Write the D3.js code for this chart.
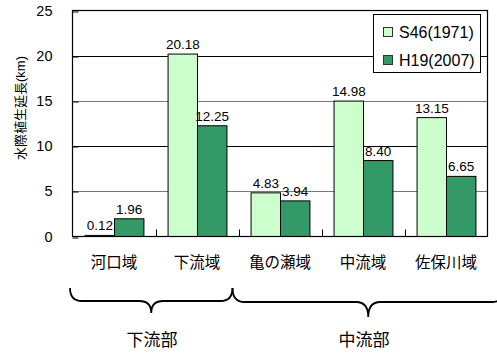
<!DOCTYPE html>
<html>
<head>
<meta charset="utf-8">
<script src="https://cdn.jsdelivr.net/npm/d3@7"></script>
<style>
  html, body { margin: 0; padding: 0; background: #fff; }
  svg { display: block; }
  text { font-family: "Liberation Sans", "Noto Sans CJK JP", sans-serif; fill: #000; }
</style>
</head>
<body>
<svg id="chart" width="497" height="354"></svg>
<script>
// 区間ごとの水際植生延長 (km)
const sections = ["河口域", "下流域", "亀の瀬域", "中流域", "佐保川域"];
const seriesNames = ["S46(1971)", "H19(2007)"];
const s46 = [0.12, 20.18, 4.83, 14.98, 13.15];
const h19 = [1.96, 12.25, 3.94, 8.40, 6.65];
const yTicks = [0, 5, 10, 15, 20, 25];
const reaches = [
  { name: "下流部", from: 0, to: 1 },
  { name: "中流部", from: 2, to: 4 }
];
const colors = ["#ccffcc", "#339966"];
const yTitle = "水際植生延長(km)";

const svg = d3.select("#chart");
const plotLeft = 72.5, plotRight = 487.5, plotTop = 10.5, plotBottom = 236.5;

const x0 = d3.scaleBand().domain(sections).range([plotLeft, plotRight]).padding(0);
const x1 = d3.scaleBand().domain(seriesNames).range([0, x0.bandwidth()])
  .paddingInner(0).paddingOuter(0.41);
const y = d3.scaleLinear().domain([0, 25]).range([plotBottom, plotTop]);

const rows = sections.map((s, i) => ({ section: s, values: [s46[i], h19[i]] }));

// grid lines
const g = svg.append("g");
g.selectAll("line.grid").data(yTicks.filter(t => t > 0 && t < 25)).join("line")
  .attr("class", "grid")
  .attr("x1", plotLeft).attr("x2", plotRight)
  .attr("y1", d => Math.round(y(d)) + 0.5).attr("y2", d => Math.round(y(d)) + 0.5)
  .attr("stroke", d => d % 10 === 0 ? "#000" : "#777")
  .attr("stroke-width", 1);

// y axis with inward ticks
const yAxis = d3.axisLeft(y).tickValues(yTicks).tickSize(-6).tickPadding(20)
  .tickFormat(d3.format("d"));
const ya = svg.append("g").attr("transform", `translate(${plotLeft},0)`).call(yAxis);
ya.select(".domain").remove();
ya.selectAll(".tick line").attr("stroke", "#000")
  .attr("transform", d => `translate(0,${Math.round(y(d)) + 0.5 - y(d)})`);
ya.selectAll(".tick text").attr("font-size", 14.5).attr("x", -20)
  .style("font-family", "'Liberation Sans', sans-serif");

// bars
const groups = svg.append("g").selectAll("g").data(rows).join("g")
  .attr("transform", d => `translate(${x0(d.section)},0)`);
groups.selectAll("rect").data(d => d.values.map((v, k) => ({ v, k }))).join("rect")
  .attr("x", d => x1(seriesNames[d.k]) + 0.5)
  .attr("width", x1.bandwidth())
  .attr("y", d => y(d.v))
  .attr("height", d => plotBottom - y(d.v))
  .attr("fill", d => colors[d.k])
  .attr("stroke", "#000")
  .attr("stroke-width", 1);

// value labels
groups.selectAll("text").data(d => d.values.map((v, k) => ({ v, k }))).join("text")
  .attr("x", d => x1(seriesNames[d.k]) + x1.bandwidth() / 2 + 0.5)
  .attr("y", d => y(d.v) - 5)
  .attr("text-anchor", "middle")
  .attr("font-size", 13.5)
  .text(d => d.v.toFixed(2));

// plot frame
svg.append("rect").attr("x", plotLeft).attr("y", plotTop)
  .attr("width", plotRight - plotLeft).attr("height", plotBottom - plotTop)
  .attr("fill", "none").attr("stroke", "#000").attr("stroke-width", 1.2);

// bottom category ticks (inward)
svg.append("g").selectAll("line").data(sections.slice(1)).join("line")
  .attr("x1", d => Math.round(x0(d)) + 0.5).attr("x2", d => Math.round(x0(d)) + 0.5)
  .attr("y1", plotBottom).attr("y2", plotBottom - 7)
  .attr("stroke", "#000");

// category labels
svg.append("g").selectAll("text").data(sections).join("text")
  .attr("x", d => x0(d) + x0.bandwidth() / 2)
  .attr("y", 268)
  .attr("text-anchor", "middle")
  .attr("font-size", 15.5)
  .text(d => d);

// y axis title
svg.append("text")
  .attr("transform", "translate(25,108) rotate(-90)")
  .attr("text-anchor", "middle")
  .attr("font-size", 13)
  .text(yTitle);

// legend
const lg = svg.append("g");
lg.append("rect").attr("x", 373.5).attr("y", 14.5).attr("width", 107).attr("height", 58)
  .attr("fill", "#fff").attr("stroke", "#000").attr("stroke-width", 1);
seriesNames.forEach((n, k) => {
  const cy = 32 + k * 28;
  lg.append("rect").attr("x", 383.5).attr("y", cy - 4.5).attr("width", 9).attr("height", 9)
    .attr("fill", colors[k]).attr("stroke", "#333");
  lg.append("text").attr("x", 399).attr("y", cy + 6).attr("font-size", 16).text(n);
});

// braces grouping the sections into reaches
function brace(xa, xb, yTop, yFlat, yTip, r) {
  const mid = (xa + xb) / 2;
  return `M${xa},${yTop} Q${xa},${yFlat} ${xa + r},${yFlat} L${mid - r},${yFlat}` +
    ` Q${mid},${yFlat} ${mid},${yTip} Q${mid},${yFlat} ${mid + r},${yFlat}` +
    ` L${xb - r},${yFlat} Q${xb},${yFlat} ${xb},${yTop}`;
}
const braceEnds = [[70, 232.5, 288, 301, 313], [232.5, 504, 288, 302, 317]];
const rg = svg.append("g");
reaches.forEach((r, i) => {
  const [xa, xb, yt, yf, yp] = braceEnds[i];
  rg.append("path").attr("d", brace(xa, xb, yt, yf, yp, 12))
    .attr("fill", "none").attr("stroke", "#000").attr("stroke-width", 1.8);
});
rg.selectAll("text").data(reaches).join("text")
  .attr("x", (d, i) => i === 0 ? 152 : 364)
  .attr("y", 346)
  .attr("text-anchor", "middle")
  .attr("font-size", 17)
  .text(d => d.name);
</script>
</body>
</html>
